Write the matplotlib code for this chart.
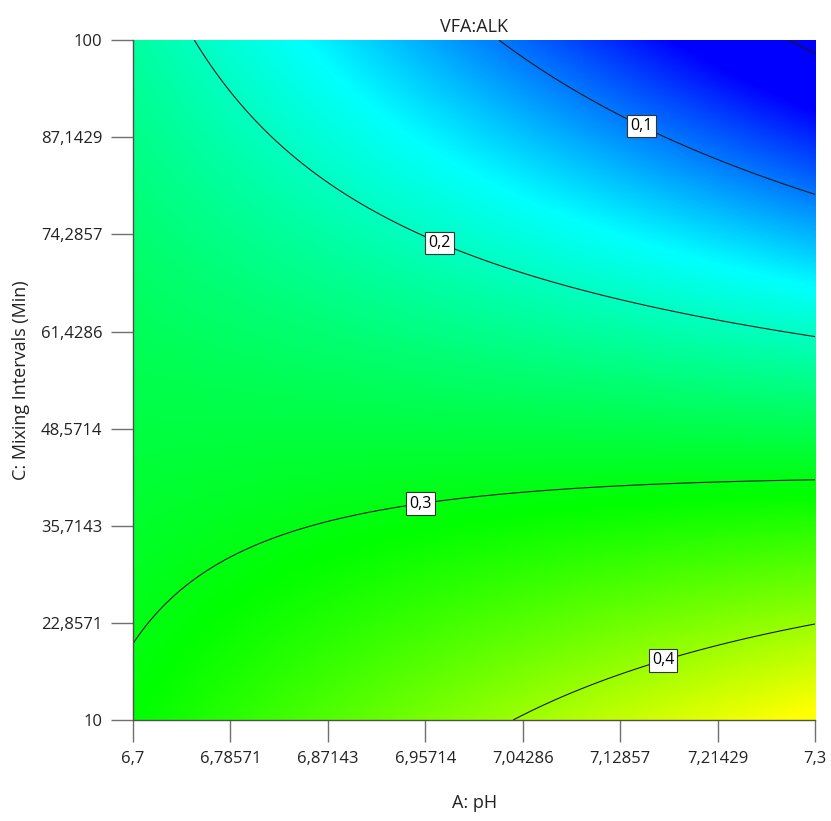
import numpy as np
import matplotlib
matplotlib.use("Agg")
import matplotlib.pyplot as plt
from matplotlib.colors import LinearSegmentedColormap

plt.rcParams['font.family'] = ['Open Sans', 'DejaVu Sans']

# Factor ranges
ph_range = [6.7, 7.3]
mix_range = [10.0, 100.0]

# Tick labels (comma decimal)
x_tick_labels = ["6,7", "6,78571", "6,87143", "6,95714", "7,04286", "7,12857", "7,21429", "7,3"]
y_tick_labels = ["10", "22,8571", "35,7143", "48,5714", "61,4286", "74,2857", "87,1429", "100"]

# Points on the response contours: pH, mixing interval, VFA:ALK level
pt_ph = [7.278, 7.3,
         7.014, 7.149, 7.3,
         6.756, 6.970, 7.3,
         6.7, 6.759, 6.953, 7.3,
         7.043, 7.164, 7.3]
pt_mix = [100.0, 98.4,
          100.0, 89.15, 79.5,
          100.0, 73.26, 60.56,
          19.9, 29.46, 38.6, 41.5,
          10.0, 18.7, 22.7]
pt_val = [0.0, 0.0,
          0.1, 0.1, 0.1,
          0.2, 0.2, 0.2,
          0.3, 0.3, 0.3, 0.3,
          0.4, 0.4, 0.4]

unlabelled_levels = [0.0]
labelled_levels = [0.1, 0.2, 0.3, 0.4]
label_spots = [(7.149, 89.15), (6.970, 73.26), (6.953, 38.6), (7.1645, 18.7)]


def coded(ph, mix):
    a = (np.asarray(ph) - np.mean(ph_range)) / (np.diff(ph_range)[0] / 2)
    c = (np.asarray(mix) - np.mean(mix_range)) / (np.diff(mix_range)[0] / 2)
    return a, c


def design(a, c):
    return np.column_stack([np.ones_like(a), a, c, a * a, c * c, a * c])


# Quadratic response-surface model fitted to the contour points
a_pt, c_pt = coded(pt_ph, pt_mix)
coef, *_ = np.linalg.lstsq(design(a_pt, c_pt), np.asarray(pt_val), rcond=None)

ph = np.linspace(*ph_range, 400)
mix = np.linspace(*mix_range, 400)
PH, MIX = np.meshgrid(ph, mix)
A, C = coded(PH.ravel(), MIX.ravel())
Z = (design(A, C) @ coef).reshape(PH.shape)

# Blue -> cyan -> green -> yellow gradient over the response range
c_lo, c_hi = 0.04, 0.46
stops = [(0.0, "#0000ff"), ((0.165 - c_lo) / (c_hi - c_lo), "#00ffff"),
         ((0.31 - c_lo) / (c_hi - c_lo), "#00ff00"), (1.0, "#ffff00")]
cmap = LinearSegmentedColormap.from_list("de", stops)

fig = plt.figure(figsize=(8.31, 8.21), dpi=100)
ax = fig.add_axes([0.160, 0.123, 0.821, 0.828])

ax.imshow(Z, origin="lower", extent=[*ph_range, *mix_range], aspect="auto",
          cmap=cmap, vmin=c_lo, vmax=c_hi, interpolation="bilinear")
ax.contour(PH, MIX, Z, levels=unlabelled_levels, colors="#1a1a1a",
           linewidths=0.8, linestyles="solid")
cs = ax.contour(PH, MIX, Z, levels=labelled_levels, colors="#1a1a1a",
                linewidths=0.8, linestyles="solid")
lbls = ax.clabel(cs, inline=True, inline_spacing=2, fontsize=11.5,
                 fmt=lambda v: f"{v:.1f}".replace(".", ","), manual=label_spots)
for t in lbls:
    t.set_rotation(0)
    t.set_color("black")
    t.set_bbox(dict(boxstyle="square,pad=0.2", facecolor="white",
                    edgecolor="#333333", linewidth=0.8))

ax.set_xlim(*ph_range)
ax.set_ylim(*mix_range)
ax.set_xticks(np.linspace(*ph_range, len(x_tick_labels)))
ax.set_xticklabels(x_tick_labels)
ax.set_yticks(np.linspace(*mix_range, len(y_tick_labels)))
ax.set_yticklabels(y_tick_labels)
ax.tick_params(direction="out", length=16, width=1, color="#707070",
               labelsize=12, labelcolor="#222222", pad=6)

for side in ["top", "right"]:
    ax.spines[side].set_visible(False)
for side in ["left", "bottom"]:
    ax.spines[side].set_color("#505050")
    ax.spines[side].set_linewidth(1.0)

ax.set_title("VFA:ALK", fontsize=13, color="#222222", pad=6)
ax.set_xlabel("A: pH", fontsize=13, color="#222222", labelpad=20)
ax.set_ylabel("C: Mixing Intervals (Min)", fontsize=13, color="#222222", labelpad=8)

fig.savefig("out.png", dpi=100)
